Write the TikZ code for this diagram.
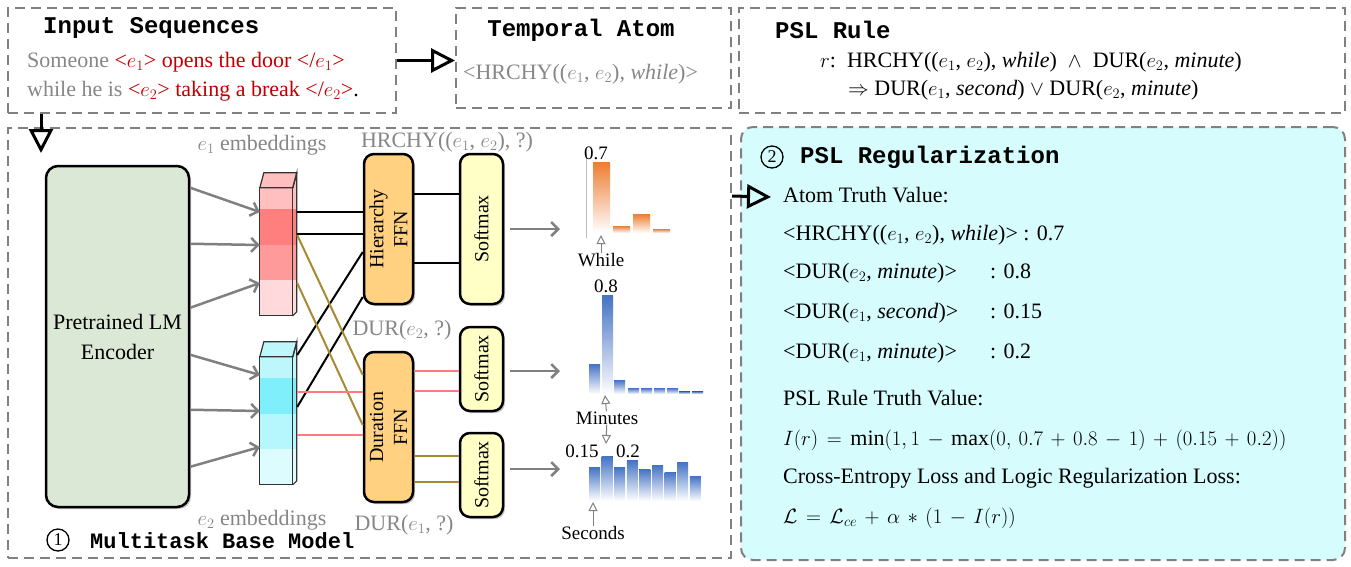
\documentclass[tikz,border=0pt]{standalone}
\usepackage{fontspec}
\setmainfont{Liberation Serif}
\setmonofont{Liberation Mono}
\usetikzlibrary{arrows.meta,calc,shadows}
\definecolor{DashGray}{HTML}{808080}
\definecolor{TextGray}{HTML}{868686}
\definecolor{TagRed}{HTML}{C00000}
\definecolor{EncGreen}{HTML}{DAE8D5}
\definecolor{FfnOrange}{HTML}{FFD180}
\definecolor{SoftYellow}{HTML}{FFFFC6}
\definecolor{RegCyan}{HTML}{D6FCFD}
\definecolor{LinkGold}{HTML}{A88A32}
\definecolor{LinkPink}{HTML}{FF7A7A}
\definecolor{BarOrange}{HTML}{ED7D31}
\definecolor{BarBlue}{HTML}{4472C4}
\definecolor{PinkA}{HTML}{FFBFBF}
\definecolor{PinkB}{HTML}{FF7F7F}
\definecolor{PinkC}{HTML}{FF9A9A}
\definecolor{PinkD}{HTML}{FFD9DC}
\definecolor{CyanA}{HTML}{BDF7FC}
\definecolor{CyanB}{HTML}{7FEFFB}
\definecolor{CyanC}{HTML}{B5F7FC}
\definecolor{CyanD}{HTML}{DDFCFE}
\newcommand{\BodySize}{\fontsize{22pt}{30pt}\selectfont}
\newcommand{\MathSize}{\fontsize{22pt}{30pt}\selectfont\medmuskip=6.5mu\thickmuskip=7.5mu}
\newcommand{\SmallSize}{\fontsize{19pt}{22pt}\selectfont}
\newcommand{\HeadSize}{\fontsize{24pt}{28pt}\selectfont}
\def\WhileBars{593/162, 613/226, 633/214, 653/229}
\def\MinuteBars{589/364, 602/295, 614/380, 628/388, 641/388, 654/388, 667/388, 679/391.5, 692/391.5}
\def\SecondBars{589/467, 601.6/456, 614.2/467, 626.8/460, 639.4/469, 652/465, 664.6/472, 677.2/462, 689.8/476}
\tikzset{
    DashBox/.style={draw=DashGray, line width=2pt, dash pattern=on 10pt off 6pt, inner sep=0pt},
    Head/.style={font=\HeadSize\ttfamily\bfseries, inner sep=0pt},
    Body/.style={font=\BodySize, inner sep=0pt, text height=15pt, text depth=5pt},
    Small/.style={font=\SmallSize, inner sep=0pt},
    Label/.style={font=\BodySize, text=TextGray, inner sep=0pt},
    Block/.style={draw=black, line width=2.5pt, inner sep=0pt,
        drop shadow={shadow xshift=2pt, shadow yshift=-2pt, fill=black!45}},
    Enc/.style={Block, rounded corners=12pt, fill=EncGreen, align=center, font=\BodySize},
    Ffn/.style={Block, rounded corners=10pt, fill=FfnOrange, minimum width=49pt},
    Soft/.style={Block, rounded corners=10pt, fill=SoftYellow, minimum width=43pt},
    BoxText/.style={rotate=90, align=center, inner sep=0pt, font=\fontsize{20pt}{24pt}\selectfont},
    Circled/.style={circle, draw, line width=1.3pt, inner sep=0pt, minimum size=22pt,
        font=\fontsize{18pt}{18pt}\selectfont},
    BigArrow/.style={draw=black, line width=3pt, -{Triangle[open, length=24pt, width=24pt]}},
    GrayArrow/.style={draw=DashGray, line width=2.5pt, -{Straight Barb[length=7pt, width=14pt]}},
    TipArrow/.style={draw=DashGray, line width=1pt, -{Triangle[open, length=9pt, width=9pt]}},
    LinkBlack/.style={draw=black, line width=2pt},
    LinkBrown/.style={draw=LinkGold, line width=2pt},
    LinkRed/.style={draw=LinkPink, line width=2.5pt}
}

\begin{document}
\begin{tikzpicture}[x=1pt, y=-1pt]
\useasboundingbox (0,0) rectangle (1351,566);

% top row
\node [DashBox, minimum width=388pt, minimum height=105pt] (InBox) at (202,60.5) {};
\node [Head, anchor=west] (InTitle) at (43,28) {Input Sequences};
\node [Body, anchor=west] (InLineA) at (27,62)
    {\textcolor{TextGray}{Someone} \textcolor{TagRed}{<$e_1$> opens the door </$e_1$>}};
\node [Body, anchor=west] (InLineB) at (27,91)
    {\textcolor{TextGray}{while he is} \textcolor{TagRed}{<$e_2$> taking a break </$e_2$>}.};

\node [DashBox, minimum width=275pt, minimum height=100pt] (AtomBox) at (593.5,58) {};
\node [Head] (AtomTitle) at (581,30) {Temporal Atom};
\node [Body, anchor=west, text=TextGray] (AtomText) at (463,74)
    {<HRCHY(($e_1$, $e_2$), \textit{while})>};

\node [DashBox, minimum width=606pt, minimum height=105pt] (RuleBox) at (1042,60.5) {};
\node [Head, anchor=west] (RuleTitle) at (775,30) {PSL Rule};
\node [Body, anchor=west] (RuleLineA) at (820,62)
    {$r$:\ \ HRCHY(($e_1$, $e_2$), \textit{while})\ \ $\wedge$\ \ DUR($e_2$, \textit{minute})};
\node [Body, anchor=west] (RuleLineB) at (848,90)
    {$\Rightarrow$ DUR($e_1$, \textit{second}) $\vee$ DUR($e_2$, \textit{minute})};

% base model
\node [DashBox, minimum width=723pt, minimum height=430pt] (Base) at (369.5,343) {};
\node [Circled] (BaseNum) at (58,540) {1};
\node [Head, font=\fontsize{22pt}{26pt}\selectfont\ttfamily\bfseries, anchor=west] (BaseTitle) at (90,541) {Multitask Base Model};

\node [Enc, minimum width=143pt, minimum height=341pt] (Enc) at (117.5,336.5) {Pretrained LM\\Encoder};

\node [inner sep=0pt, minimum width=37pt, minimum height=129pt] (EmbA) at (278.5,252.5) {};
\node [inner sep=0pt, minimum width=37pt, minimum height=128pt] (EmbB) at (278.5,421) {};
\foreach \emb/\ca/\cb/\cc/\cd in {EmbA/PinkA/PinkB/PinkC/PinkD, EmbB/CyanA/CyanB/CyanC/CyanD} {
\begin{scope}[shift={(\emb.north west)}]
    \begin{scope}
    \clip (0,0) -- (33,0) -- (37,-15) -- (37,124) -- (33,128) -- (0,128) -- cycle;
    \foreach \ya/\yb/\c in {-15/21/\ca, 21/57/\cb, 57/92/\cc, 92/130/\cd}
        \fill [fill=\c] (0,\ya) rectangle (37,\yb);
    \end{scope}
    \filldraw [fill=\ca, draw=black!80, line width=1.2pt] (0,0) -- (4,-15) -- (37,-15) -- (33,0) -- cycle;
    \draw [draw=black!80, line width=1.2pt] (0,0) rectangle (33,128);
    \draw [draw=black!80, line width=1.2pt] (33,0) -- (37,-15) -- (37,124) -- (33,128);
\end{scope}
}
\node [Label] (EmbALabel) at (262,145) {$e_1$ embeddings};
\node [Label] (EmbBLabel) at (262,520) {$e_2$ embeddings};

\foreach \a/\b in {23/-40.5, 79/-7.5, 143/30.5}
    \draw [GrayArrow] ($(Enc.north east)+(0,\a)$) -- ($(EmbA.west)+(0,\b)$);
\foreach \a/\b in {190/-46, 245/-10, 302/26}
    \draw [GrayArrow] ($(Enc.north east)+(0,\a)$) -- ($(EmbB.west)+(0,\b)$);

\node [Ffn, minimum height=150pt] (Hier) at (388.5,229) {};
\node [BoxText] (HierText) at (Hier) {Hierarchy\\FFN};
\node [Ffn, minimum height=150pt] (Dur) at (388.5,427) {};
\node [BoxText] (DurText) at (Dur) {Duration\\FFN};
\node [Label] (HierLabel) at (447,142) {HRCHY(($e_1$, $e_2$), ?)};
\node [Label] (DurBLabel) at (402,330) {DUR($e_2$, ?)};
\node [Label] (DurALabel) at (404,525) {DUR($e_1$, ?)};

\node [Soft, minimum height=150pt] (SoftA) at (481.5,229) {};
\node [BoxText] (SoftAText) at (SoftA) {Softmax};
\node [Soft, minimum height=84pt] (SoftB) at (481.5,369) {};
\node [BoxText] (SoftBText) at (SoftB) {Softmax};
\node [Soft, minimum height=84pt] (SoftC) at (481.5,475) {};
\node [BoxText] (SoftCText) at (SoftC) {Softmax};

% links into the heads
\draw [LinkBlack] ($(EmbA.east)+(0,-40.5)$) -- ($(Hier.west)+(0,-17)$);
\draw [LinkBlack] ($(EmbA.east)+(0,-18.5)$) -- ($(Hier.west)+(0,5)$);
\draw [LinkBlack] ($(EmbB.east)+(0,-66)$) -- ($(Hier.west)+(0,23)$);
\draw [LinkBlack] ($(EmbB.east)+(0,-14)$) -- ($(Hier.west)+(0,68)$);
\draw [LinkBrown] ($(EmbA.east)+(0,-17.5)$) -- ($(Dur.west)+(0,-52)$);
\draw [LinkBrown] ($(EmbA.east)+(0,30.5)$) -- ($(Dur.west)+(0,-2)$);
\draw [LinkRed] ($(EmbB.east)+(0,-29)$) -- ($(Dur.west)+(0,-35)$);
\draw [LinkRed] ($(EmbB.east)+(0,14)$) -- ($(Dur.west)+(0,8)$);
\draw [LinkBlack] ($(Hier.east)+(0,-35)$) -- ($(SoftA.west)+(0,-35)$);
\draw [LinkBlack] ($(Hier.east)+(0,34)$) -- ($(SoftA.west)+(0,34)$);
\draw [LinkRed] ($(Dur.east)+(0,-56)$) -- ($(SoftB.west)+(0,2)$);
\draw [LinkRed] ($(Dur.east)+(0,-36)$) -- ($(SoftB.west)+(0,22)$);
\draw [LinkBrown] ($(Dur.east)+(0,29)$) -- ($(SoftC.west)+(0,-19)$);
\draw [LinkBrown] ($(Dur.east)+(0,55)$) -- ($(SoftC.west)+(0,7)$);

% output distributions
\coordinate (OutA) at (560,229);
\coordinate (OutB) at (560,371);
\coordinate (OutC) at (560,469);
\draw [GrayArrow, shorten <=6pt] (SoftA.east) -- (OutA);
\draw [GrayArrow, shorten <=6pt] ($(SoftB.east)+(0,2)$) -- (OutB);
\draw [GrayArrow, shorten <=6pt] ($(SoftC.east)+(0,-6)$) -- (OutC);

\draw [draw=black!25, line width=1pt] (586,153) -- (586,238);
\foreach \x/\t in \WhileBars
    \fill [top color=BarOrange, bottom color=white] (\x,\t) rectangle (\x+17,233);
\foreach \x/\t in \MinuteBars
    \fill [top color=BarBlue, bottom color=white] (\x,\t) rectangle (\x+11,394);
\foreach \x/\t in \SecondBars
    \fill [top color=BarBlue, bottom color=white] (\x,\t) rectangle (\x+11,501);

\node [Small] (ValWhile) at (596,153) {0.7};
\node [Small] (While) at (601,260) {While};
\coordinate (WhileTip) at (601,235);
\draw [TipArrow] (While) -- (WhileTip);
\node [Small] (ValMinute) at (606,286) {0.8};
\node [Small] (Minutes) at (607,418) {Minutes};
\coordinate (MinuteTip) at (605,395);
\coordinate (MinuteDown) at (606,444);
\draw [TipArrow] (Minutes) -- (MinuteTip);
\draw [TipArrow] (Minutes) -- (MinuteDown);
\node [Small] (ValSecond) at (582,451) {0.15};
\node [Small] (ValSecondB) at (628,451) {0.2};
\node [Small] (Seconds) at (593,533) {Seconds};
\coordinate (SecondTip) at (593,502);
\draw [TipArrow] (Seconds) -- (SecondTip);

% PSL regularization
\node [DashBox, rounded corners=12pt, fill=RegCyan, minimum width=604pt, minimum height=433pt] (Reg) at (1043,343.5) {};
\node [Circled] (RegNum) at (772,157) {2};
\node [Head, anchor=west] (RegTitle) at (800,157) {PSL Regularization};
\node [Body, anchor=west] (RegAtom) at (783,197) {Atom Truth Value:};
\node [Body, anchor=west] (RegRowA) at (783,235) {<HRCHY(($e_1$, $e_2$), \textit{while})> : 0.7};
\node [Body, anchor=west] (RegRowB) at (783,273) {<DUR($e_2$, \textit{minute})>};
\node [Body, anchor=west] (RegValB) at (990,273) {: 0.8};
\node [Body, anchor=west] (RegRowC) at (783,313) {<DUR($e_1$, \textit{second})>};
\node [Body, anchor=west] (RegValC) at (990,313) {: 0.15};
\node [Body, anchor=west] (RegRowD) at (783,353) {<DUR($e_1$, \textit{minute})>};
\node [Body, anchor=west] (RegValD) at (990,353) {: 0.2};
\node [Body, anchor=west] (RegRule) at (783,400) {PSL Rule Truth Value:};
\node [Body, font=\MathSize, anchor=west] (RegFormula) at (783,440)
    {$I(r) = \min(1,1 - \max(0,\, 0.7 + 0.8 - 1) + (0.15 + 0.2))$};
\node [Body, anchor=west] (RegLossText) at (783,478) {Cross-Entropy Loss and Logic Regularization Loss:};
\node [Body, font=\MathSize, anchor=west] (RegLoss) at (783,518) {$\mathcal{L} = \mathcal{L}_{ce} + \alpha * (1 - I(r))$};

% big arrows
\coordinate (BaseEntry) at (41,153);
\coordinate (RegEntry) at (771,197);
\draw [BigArrow] (InBox.east) -- (InBox.east -| AtomBox.west);
\draw [BigArrow] (InBox.south west -| BaseEntry) -- (BaseEntry);
\draw [BigArrow] ($(Base.north east)+(0,69)$) -- (RegEntry);
\end{tikzpicture}
\end{document}
